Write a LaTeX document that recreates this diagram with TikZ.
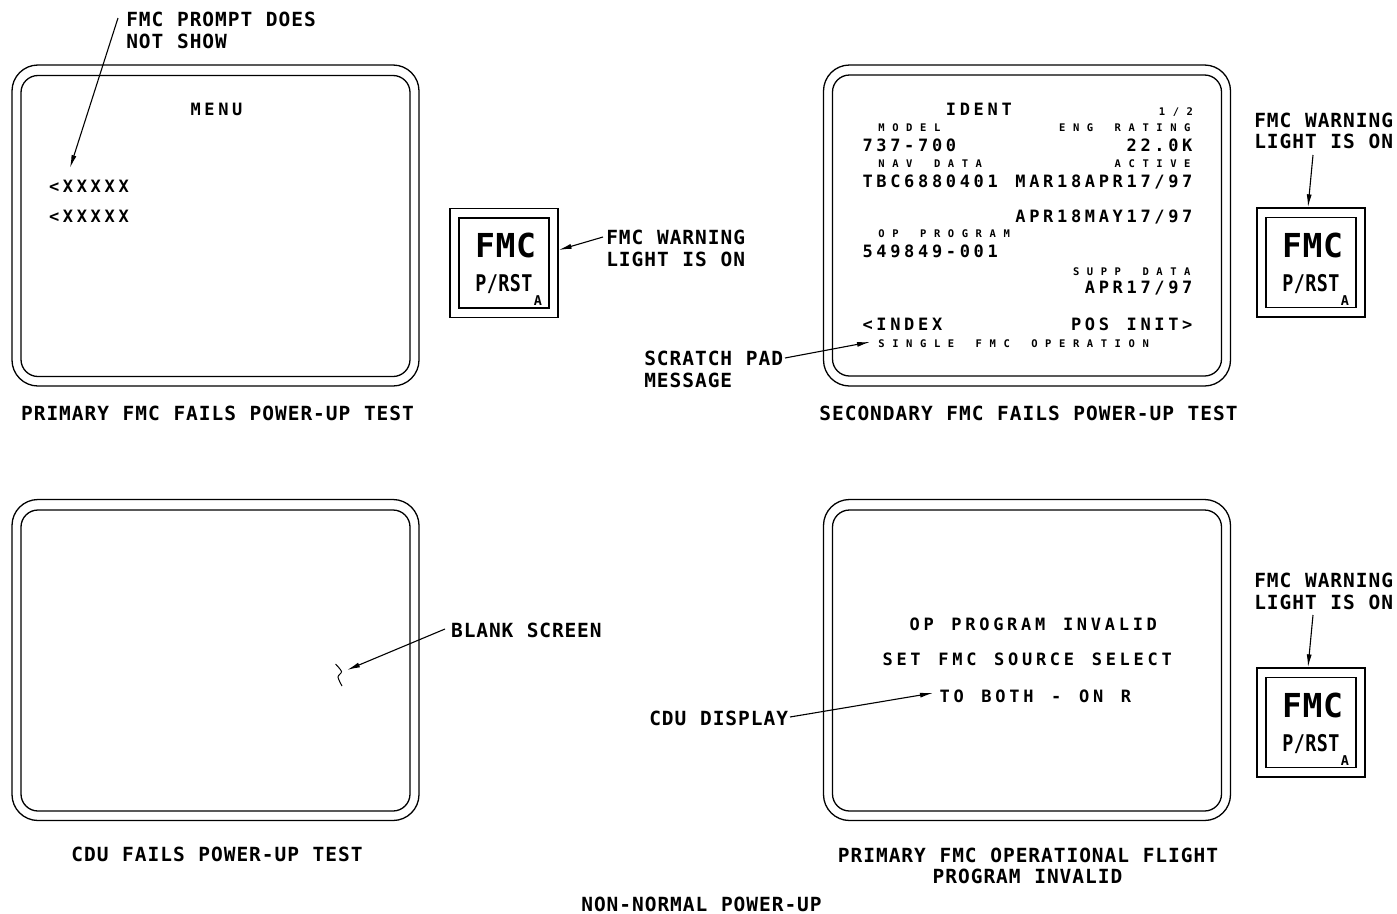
\documentclass[tikz,border=0pt]{standalone}
\usepackage{fontspec}
\usepackage{graphicx}
\usetikzlibrary{arrows.meta}
\newfontfamily\dmono{DejaVu Sans Mono}
\ExplSyntaxOn
\NewDocumentCommand\celltext{O{1}mm}{\str_map_inline:nn{#3}{\makebox[#2][c]{\scalebox{#1}[1]{##1}}}}
\ExplSyntaxOff
\tikzset{
 lbl/.style={inner sep=0pt, font=\dmono\bfseries\fontsize{19.5}{22}\selectfont},
 scr/.style={inner sep=0pt, font=\dmono\bfseries\fontsize{17}{20}\selectfont},
 scrs/.style={inner sep=0pt, font=\dmono\bfseries\fontsize{10.5}{12}\selectfont},
 bezel/.style={draw, line width=1.3pt, inner sep=0pt, rounded corners=26pt, minimum width=407pt, minimum height=321pt},
 bezelin/.style={draw, line width=1.3pt, inner sep=0pt, rounded corners=17pt, minimum width=389pt, minimum height=301pt},
 keyout/.style={draw, line width=1.3pt, minimum width=108pt, minimum height=109pt, inner sep=0pt},
 keyin/.style={draw, line width=1.3pt, minimum width=90pt, minimum height=90pt, inner sep=0pt},
 keybig/.style={inner sep=0pt, anchor=base, font=\dmono\bfseries\fontsize{33}{36}\selectfont},
 keymid/.style={inner sep=0pt, anchor=base, font=\dmono\bfseries\fontsize{23}{26}\selectfont},
 keysub/.style={inner sep=0pt, anchor=base, font=\dmono\bfseries\fontsize{13.5}{15}\selectfont},
 arr/.style={line width=1.1pt, -{Latex[length=13pt,width=5pt]}},
}
\begin{document}
\begin{tikzpicture}[x=1pt,y=-1pt]
\fill[white] (0,0) rectangle (1397,913);
\useasboundingbox (0,0) rectangle (1397,913);

% ---------- screens ----------
\node[bezel] (s1o) at (215.5,225.5) {};
\node[bezelin] (s1i) at (215.5,226) {};
\node[bezel] (s2o) at (1027,225.5) {};
\node[bezelin] (s2i) at (1027,225.5) {};
\node[bezel] (s3o) at (215.5,660) {};
\node[bezelin] (s3i) at (215.5,660.5) {};
\node[bezel] (s4o) at (1027,660) {};
\node[bezelin] (s4i) at (1027,660.5) {};

% ---------- screen 1 text ----------
\node[scr, anchor=base] (menu) at (216.5,115) {\celltext{13.9pt}{MENU}};
\node[scr, anchor=base west] (x1) at (47,192) {\celltext{13.9pt}{<XXXXX}};
\node[scr, anchor=base west] (x2) at (47,222) {\celltext{13.9pt}{<XXXXX}};

% ---------- screen 2 text ----------
\node[scr, anchor=base west] (ident) at ({860.5+13.9*6},115) {\celltext{13.9pt}{IDENT}};
\node[scrs, anchor=base west] (page) at ({863+13.9*21},115) {\celltext{13.9pt}{1/2}};
\node[scrs, anchor=base west] (model) at ({860.5+13.9*1},131) {\celltext{13.9pt}{MODEL}};
\node[scrs, anchor=base west] (eng) at ({860.5+13.9*14},131) {\celltext{13.9pt}{ENG RATING}};
\node[scr, anchor=base west] (mdl) at (860.5,151) {\celltext{13.9pt}{737-700}};
\node[scr, anchor=base west] (rat) at ({860.5+13.9*19},151) {\celltext{13.9pt}{22.0K}};
\node[scrs, anchor=base west] (nav) at ({860.5+13.9*1},167) {\celltext{13.9pt}{NAV DATA}};
\node[scrs, anchor=base west] (act) at ({860.5+13.9*18},167) {\celltext{13.9pt}{ACTIVE}};
\node[scr, anchor=base west] (tbc) at (860.5,187) {\celltext{13.9pt}{TBC6880401 MAR18APR17/97}};
\node[scr, anchor=base west] (apr) at ({860.5+13.9*11},222) {\celltext{13.9pt}{APR18MAY17/97}};
\node[scrs, anchor=base west] (opp) at ({860.5+13.9*1},237) {\celltext{13.9pt}{OP PROGRAM}};
\node[scr, anchor=base west] (pn) at (860.5,257) {\celltext{13.9pt}{549849-001}};
\node[scrs, anchor=base west] (supp) at ({860.5+13.9*15},275) {\celltext{13.9pt}{SUPP DATA}};
\node[scr, anchor=base west] (suppd) at ({860.5+13.9*16},293) {\celltext{13.9pt}{APR17/97}};
\node[scr, anchor=base west] (index) at (860.5,330) {\celltext{13.9pt}{<INDEX}};
\node[scr, anchor=base west] (pos) at ({860.5+13.9*15},330) {\celltext{13.9pt}{POS INIT>}};
\node[scrs, anchor=base west] (single) at ({860.5+13.9*1},347) {\celltext{13.9pt}{SINGLE FMC OPERATION}};

% ---------- screen 4 text ----------
\node[scr, anchor=base west] (inv1) at (907.5,630) {\celltext{13.95pt}{OP PROGRAM INVALID}};
\node[scr, anchor=base west] (inv2) at (880.5,665) {\celltext{13.95pt}{SET FMC SOURCE SELECT}};
\node[scr, anchor=base west] (inv3) at (937.5,702) {\celltext{13.95pt}{TO BOTH - ON R}};

% ---------- FMC keys ----------
\node[keyout] (k1o) at (504,263) {};
\node[keyin] (k1i) at (504,263) {};
\node[keybig] (k1a) at (505.5,257) {\celltext{20.5pt}{FMC}};
\node[keymid] (k1b) at (504,291) {\celltext[0.8]{11.5pt}{P/RST}};
\node[keysub] (k1c) at (538,305) {A};

\node[keyout] (k2o) at (1311,262.5) {};
\node[keyin] (k2i) at (1311,262.5) {};
\node[keybig] (k2a) at (1312.5,257) {\celltext{20.5pt}{FMC}};
\node[keymid] (k2b) at (1311,291) {\celltext[0.8]{11.5pt}{P/RST}};
\node[keysub] (k2c) at (1345,305) {A};

\node[keyout] (k3o) at (1311,722.5) {};
\node[keyin] (k3i) at (1311,722.5) {};
\node[keybig] (k3a) at (1312.5,717) {\celltext{20.5pt}{FMC}};
\node[keymid] (k3b) at (1311,751) {\celltext[0.8]{11.5pt}{P/RST}};
\node[keysub] (k3c) at (1345,765) {A};

% ---------- labels ----------
\node[lbl, anchor=base west] (l1a) at (125.6,26) {\celltext{12.7pt}{FMC PROMPT DOES}};
\node[lbl, anchor=base west] (l1b) at (125.6,48) {\celltext{12.7pt}{NOT SHOW}};
\node[lbl, anchor=base west] (l2a) at (605.6,244) {\celltext{12.7pt}{FMC WARNING}};
\node[lbl, anchor=base west] (l2b) at (605.6,266) {\celltext{12.7pt}{LIGHT IS ON}};
\node[lbl, anchor=base west] (l3a) at (1253.6,127) {\celltext{12.7pt}{FMC WARNING}};
\node[lbl, anchor=base west] (l3b) at (1253.6,148) {\celltext{12.7pt}{LIGHT IS ON}};
\node[lbl, anchor=base west] (l4a) at (643.6,365) {\celltext{12.7pt}{SCRATCH PAD}};
\node[lbl, anchor=base west] (l4b) at (643.6,387) {\celltext{12.7pt}{MESSAGE}};
\node[lbl, anchor=base west] (l5) at (450.6,637) {\celltext{12.6pt}{BLANK SCREEN}};
\node[lbl, anchor=base west] (l6) at (648.6,725) {\celltext{12.7pt}{CDU DISPLAY}};
\node[lbl, anchor=base west] (l7a) at (1253.6,587) {\celltext{12.7pt}{FMC WARNING}};
\node[lbl, anchor=base west] (l7b) at (1253.6,609) {\celltext{12.7pt}{LIGHT IS ON}};

% ---------- captions ----------
\node[lbl, anchor=base] (c1) at (217.5,420) {\celltext{12.7pt}{PRIMARY FMC FAILS POWER-UP TEST}};
\node[lbl, anchor=base] (c2) at (1028.5,420) {\celltext{12.7pt}{SECONDARY FMC FAILS POWER-UP TEST}};
\node[lbl, anchor=base] (c3) at (217,861) {\celltext{12.7pt}{CDU FAILS POWER-UP TEST}};
\node[lbl, anchor=base] (c4a) at (1028,862) {\celltext{12.7pt}{PRIMARY FMC OPERATIONAL FLIGHT}};
\node[lbl, anchor=base] (c4b) at (1027.5,883) {\celltext{12.7pt}{PROGRAM INVALID}};
\node[lbl, anchor=base] (title) at (701.5,911) {\celltext{12.7pt}{NON-NORMAL POWER-UP}};

% ---------- connectors ----------
\coordinate (a1s) at (118,18);
\coordinate (a1t) at (70,168);
\draw[arr] (a1s) -- (a1t);
\coordinate (a2s) at (603,237);
\draw[arr] (a2s) -- ([yshift=13pt]k1o.east);
\coordinate (a3s) at (1313,155);
\draw[arr] (a3s) -- ([xshift=-3pt]k2o.north);
\coordinate (a4s) at (785,358);
\coordinate (a4t) at (870,342);
\draw[arr] (a4s) -- (a4t);
\coordinate (a5s) at (445,629);
\coordinate (a5t) at (347,670);
\draw[arr] (a5s) -- (a5t);
\coordinate (a6s) at (790,717);
\coordinate (a6t) at (933,693);
\draw[arr] (a6s) -- (a6t);
\coordinate (a7s) at (1313,615);
\draw[arr] (a7s) -- ([xshift=-3pt]k3o.north);

% break mark
\draw[line width=1pt] plot[smooth] coordinates {(335.5,664) (341.5,671.5) (338,677) (342,686)};
\end{tikzpicture}
\end{document}
